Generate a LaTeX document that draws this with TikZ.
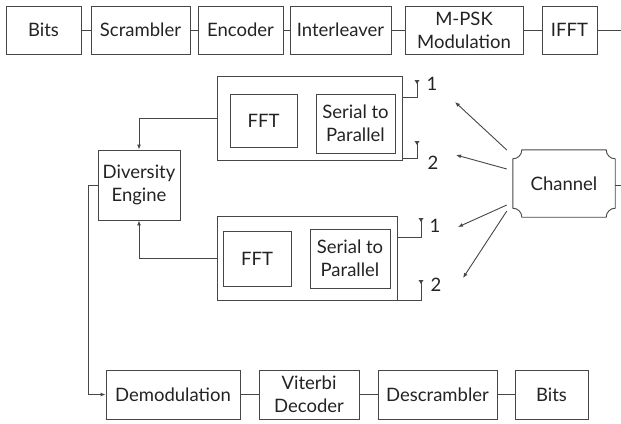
\documentclass[tikz,border=0pt]{standalone}
\usepackage{fontspec}
\setmainfont{Lato}
\usepackage{tikz}
\usetikzlibrary{arrows.meta,calc}
\definecolor{dgline}{RGB}{70,70,70}
\definecolor{dgtext}{RGB}{35,35,35}
\tikzset{
  blk/.style ={draw=dgline, line width=0.9pt, text=dgtext, align=center, inner sep=0pt, font=\fontsize{18.5}{23}\selectfont},
  frm/.style ={draw=dgline, line width=0.9pt, inner sep=0pt},
  lnk/.style ={draw=dgline, line width=0.9pt},
  ptr/.style ={draw=dgline, line width=0.9pt, -{Latex[length=5pt,width=4pt]}},
  lab/.style ={text=dgtext, inner sep=1pt, font=\fontsize{18.5}{23}\selectfont},
}

\begin{document}
\begin{tikzpicture}[x=1pt,y=-1pt]
  \useasboundingbox (0,0) rectangle (621,423);
  % transmitter chain
  \node[blk, minimum width=75pt, minimum height=48pt] (bitsTx) at (43.5,30) {Bits};
  \node[blk, minimum width=99pt, minimum height=48pt] (scr) at (140.5,30) {Scrambler};
  \node[blk, minimum width=85pt, minimum height=48pt] (enc) at (240.5,30) {Encoder};
  \node[blk, minimum width=101pt, minimum height=48pt] (intl) at (340.5,30) {Interleaver};
  \node[blk, minimum width=118pt, minimum height=48pt] (mpsk) at (464,30) {M-PSK\\Modulation};
  \node[blk, minimum width=55pt, minimum height=48pt] (ifft) at (569.5,30) {IFFT};
  \coordinate (txEnd) at (621,30);
  \draw[lnk] (bitsTx) -- (scr);
  \draw[lnk] (scr) -- (enc);
  \draw[lnk] (enc) -- (intl);
  \draw[lnk] (intl) -- (mpsk);
  \draw[lnk] (mpsk) -- (ifft);
  \draw[lnk] (ifft) -- (txEnd);
  % receiver A
  \node[frm, minimum width=185pt, minimum height=84pt] (rxA) at (309.5,118) {};
  \node[blk, minimum width=67pt, minimum height=53pt] (fftA) at (263.5,120.5) {FFT};
  \node[blk, minimum width=79pt, minimum height=59pt] (spA) at (355.5,123.5) {Serial to\\Parallel};
  \coordinate (a1Abase) at (417,97);
  \coordinate (a1A) at (417,80);
  \coordinate (a2Abase) at (417,158);
  \coordinate (a2A) at (417,141);
  \draw[lnk] (rxA.east |- a1Abase) -- (a1Abase) -- (a1A);
  \draw[lnk] (rxA.east |- a2Abase) -- (a2Abase) -- (a2A);
  \fill[dgline] (a1A) ++(-2.5,0) -- ++(5,0) -- ++(-2.5,4) -- cycle;
  \fill[dgline] (a2A) ++(-2.5,0) -- ++(5,0) -- ++(-2.5,4) -- cycle;
  \node[lab] (n1A) at (432,84) {1};
  \node[lab] (n2A) at (433,163) {2};
  % receiver B
  \node[frm, minimum width=180pt, minimum height=84pt] (rxB) at (307,258) {};
  \node[blk, minimum width=68pt, minimum height=55pt] (fftB) at (257,258.5) {FFT};
  \node[blk, minimum width=80pt, minimum height=59pt] (spB) at (350,258.5) {Serial to\\Parallel};
  \coordinate (a1Bbase) at (421,237);
  \coordinate (a1B) at (421,218);
  \coordinate (a2Bbase) at (421,300);
  \coordinate (a2B) at (421,280);
  \draw[lnk] (rxB.east |- a1Bbase) -- (a1Bbase) -- (a1B);
  \draw[lnk] (rxB.east |- a2Bbase) -- (a2Bbase) -- (a2B);
  \fill[dgline] (a1B) ++(-2.5,0) -- ++(5,0) -- ++(-2.5,4) -- cycle;
  \fill[dgline] (a2B) ++(-2.5,0) -- ++(5,0) -- ++(-2.5,4) -- cycle;
  \node[lab] (n1B) at (435,226) {1};
  \node[lab] (n2B) at (436,285) {2};
  % channel
  \node[lab, minimum width=102pt, minimum height=67pt] (chan) at (564,183.5) {Channel};
  \draw[lnk] ($(chan.north west)+(0,9)$) .. controls ($(chan.north west)+(5,9)$) and ($(chan.north west)+(9,5)$) .. ($(chan.north west)+(9,0)$)
    -- ($(chan.north east)+(-9,0)$) .. controls ($(chan.north east)+(-9,5)$) and ($(chan.north east)+(-5,9)$) .. ($(chan.north east)+(0,9)$)
    -- ($(chan.south east)+(0,-9)$) .. controls ($(chan.south east)+(-5,-9)$) and ($(chan.south east)+(-9,-5)$) .. ($(chan.south east)+(-9,0)$)
    -- ($(chan.south west)+(9,0)$) .. controls ($(chan.south west)+(9,-5)$) and ($(chan.south west)+(5,-9)$) .. ($(chan.south west)+(0,-9)$) -- cycle;
  \coordinate (chEnd) at (621,185);
  \draw[lnk] (chan.east |- chEnd) -- (chEnd);
  \coordinate (r1A) at (455,102);
  \coordinate (r2A) at (456,155);
  \coordinate (r1B) at (458,227);
  \coordinate (r2B) at (463,278);
  \draw[ptr] ($(chan.west)+(-6,-33.5)$) -- (r1A);
  \draw[ptr] ($(chan.west)+(-6,-14.5)$) -- (r2A);
  \draw[ptr] ($(chan.west)+(-6,21.5)$) -- (r1B);
  \draw[ptr] ($(chan.west)+(-6,27.5)$) -- (r2B);
  % combining and decoding
  \node[blk, minimum width=82pt, minimum height=70pt] (div) at (139,185) {Diversity\\Engine};
  \node[blk, minimum width=134pt, minimum height=49pt] (demod) at (173,394.5) {Demodulation};
  \node[blk, minimum width=100pt, minimum height=49pt] (vit) at (309,394.5) {Viterbi\\Decoder};
  \node[blk, minimum width=119pt, minimum height=49pt] (desc) at (437.5,394.5) {Descrambler};
  \node[blk, minimum width=73pt, minimum height=49pt] (bitsRx) at (551.5,394.5) {Bits};
  \draw[ptr] (rxA.west) -| (div.north);
  \draw[ptr] (rxB.west) -| (div.south);
  \draw[ptr] (div.west) -- ++(-9,0) |- (demod.west);
  \draw[lnk] (demod) -- (vit);
  \draw[lnk] (vit) -- (desc);
  \draw[lnk] (desc) -- (bitsRx);
\end{tikzpicture}
\end{document}
